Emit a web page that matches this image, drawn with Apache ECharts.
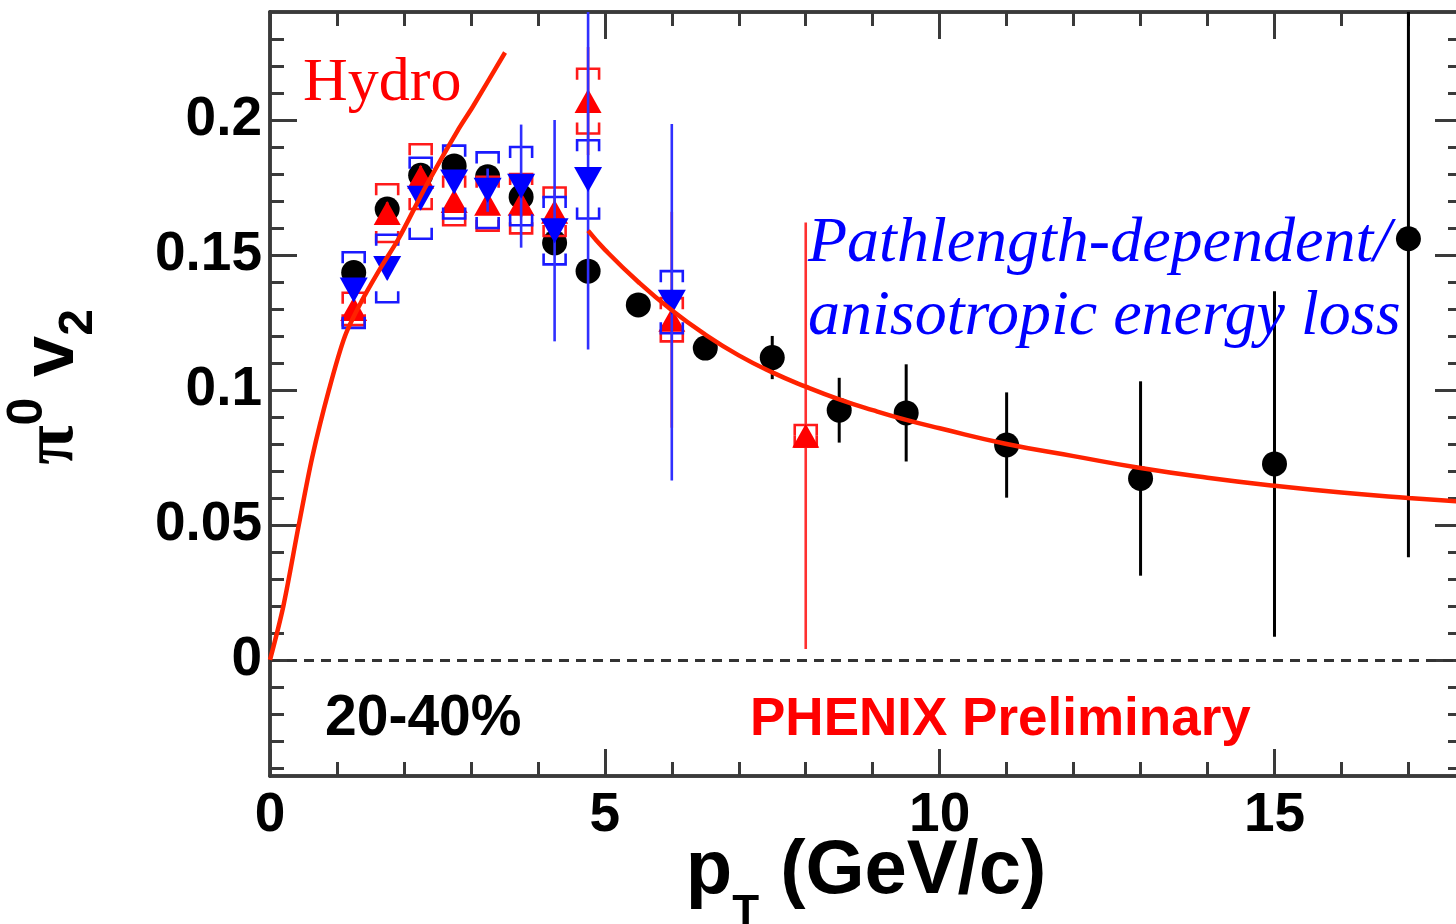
<!DOCTYPE html>
<html>
<head>
<meta charset="utf-8">
<script src="https://cdn.jsdelivr.net/npm/echarts@6/dist/echarts.min.js"></script>
<style>
  html, body { margin: 0; padding: 0; background: #fff; }
  #chart { width: 1456px; height: 924px; }
</style>
</head>
<body>
<div id="chart"></div>
<script>
// pi0 v2 vs pT, 20-40% centrality

// inclusive pi0 v2 (filled circles) with statistical errors
const pTPi0   = [1.25, 1.75, 2.25, 2.75, 3.25, 3.75, 4.25, 4.75, 5.5, 6.5, 7.5, 8.5, 9.5, 11, 13, 15, 17];
const v2Pi0   = [0.1435, 0.167, 0.1795, 0.183, 0.179, 0.1715, 0.1545, 0.144, 0.1315, 0.1155, 0.112, 0.0925, 0.0915, 0.0796, 0.0672, 0.0726, 0.156];
const statPi0 = [0.003, 0.003, 0.003, 0.003, 0.003, 0.003, 0.003, 0.003, 0.003, 0.004, 0.008, 0.012, 0.018, 0.0195, 0.036, 0.064, 0.118];

// up-triangle set (red): values, statistical errors, systematic half-widths
const pTUp   = [1.25, 1.75, 2.25, 2.75, 3.25, 3.75, 4.25, 4.75, 6, 8];
const v2Up   = [0.130, 0.1655, 0.179, 0.170, 0.169, 0.169, 0.166, 0.207, 0.126, 0.083];
const statUp = [0.004, 0.004, 0.004, 0.004, 0.004, 0.005, 0.008, 0.02, 0.04, 0.079];
const sysUp  = [0.006, 0.0107, 0.012, 0.009, 0.010, 0.011, 0.009, 0.012, 0.008, 0.004];

// down-triangle set (blue): values, statistical errors, systematic half-widths
const pTDown   = [1.25, 1.75, 2.25, 2.75, 3.25, 3.75, 4.25, 4.75, 6];
const v2Down   = [0.137, 0.145, 0.171, 0.177, 0.174, 0.1755, 0.159, 0.178, 0.1325];
const statDown = [0.004, 0.004, 0.004, 0.004, 0.008, 0.0228, 0.041, 0.063, 0.066];
const sysDown  = [0.014, 0.0125, 0.015, 0.0135, 0.014, 0.0145, 0.0125, 0.0145, 0.0115];

// hydrodynamic calculation
const hydroPt = [0, 0.2, 0.43, 0.63, 0.88, 1.12, 1.37, 1.67, 1.92, 2.34, 2.8, 3.03, 3.51];
const hydroV2 = [0, 0.020, 0.050, 0.075, 0.100, 0.120, 0.133, 0.146, 0.156, 0.176, 0.196, 0.205, 0.225];

// pathlength-dependent energy-loss calculation
const elossPt = [4.75, 5.0, 5.5, 6.0, 6.5, 7.0, 7.5, 8.0, 8.5, 9.0, 9.5, 10, 11, 12, 13, 14, 15, 16, 17, 17.8];
const elossV2 = [0.159, 0.152, 0.140, 0.1295, 0.1205, 0.1128, 0.1065, 0.1012, 0.0965, 0.0925, 0.0889, 0.0858, 0.0800, 0.0755, 0.0711, 0.0675, 0.0645, 0.0620, 0.0600, 0.0586];

// axis ticks
const xMajorTicks = [0, 5, 10, 15];
const xMinorTicks = [1, 2, 3, 4, 6, 7, 8, 9, 11, 12, 13, 14, 16, 17];
const yMajorTicks = [0, 0.05, 0.1, 0.15, 0.2];
const yMinorTicks = [-0.04, -0.03, -0.02, -0.01, 0.01, 0.02, 0.03, 0.04, 0.06, 0.07, 0.08, 0.09,
                     0.11, 0.12, 0.13, 0.14, 0.16, 0.17, 0.18, 0.19, 0.21, 0.22, 0.23];

const X_MIN = 0, X_MAX = 17.8, Y_MIN = -0.043, Y_MAX = 0.24;

const SANS = '"Liberation Sans", Arial, Helvetica, sans-serif';
const SERIF = '"Liberation Serif", "Times New Roman", serif';
const FRAME = '#3a3a3a';

const zip3 = (a, b, c) => a.map((v, i) => [v, b[i], c[i]]);
const zip2 = (a, b) => a.map((v, i) => [v, b[i]]);

function errorBarRenderer(color, width) {
  return function (params, api) {
    const x = api.value(0), y = api.value(1), e = api.value(2);
    const top = api.coord([x, y + e]);
    const bot = api.coord([x, y - e]);
    return {
      type: 'line',
      shape: { x1: top[0], y1: top[1], x2: bot[0], y2: bot[1] },
      style: { stroke: color, lineWidth: width }
    };
  };
}

// systematic uncertainty drawn as open brackets: top and bottom edges with short legs
function sysBoxRenderer(color) {
  return function (params, api) {
    const x = api.value(0), y = api.value(1), s = api.value(2);
    const top = api.coord([x, y + s]);
    const bot = api.coord([x, y - s]);
    const w = 11;
    const h = bot[1] - top[1];
    const leg = Math.min(11, h / 2);
    const cx = top[0];
    return {
      type: 'group',
      children: [
        {
          type: 'polyline',
          shape: { points: [[cx - w, top[1] + leg], [cx - w, top[1]], [cx + w, top[1]], [cx + w, top[1] + leg]] },
          style: { stroke: color, lineWidth: 2.6, fill: null }
        },
        {
          type: 'polyline',
          shape: { points: [[cx - w, bot[1] - leg], [cx - w, bot[1]], [cx + w, bot[1]], [cx + w, bot[1] - leg]] },
          style: { stroke: color, lineWidth: 2.6, fill: null }
        }
      ]
    };
  };
}

const axisLineStyle = { show: true, onZero: false, lineStyle: { color: FRAME, width: 3.5 } };
const tickStyle = (len, values) => ({
  show: true, inside: true, length: len, customValues: values,
  lineStyle: { color: FRAME, width: 3 }
});

function xAxisDef(position, ticks, len, withLabels) {
  return {
    type: 'value', position: position, min: X_MIN, max: X_MAX,
    axisLine: axisLineStyle,
    axisTick: tickStyle(len, ticks),
    axisLabel: withLabels ? {
      show: true, customValues: ticks, margin: 12,
      fontFamily: SANS, fontWeight: 'bold', fontSize: 55, color: '#000'
    } : { show: false },
    splitLine: { show: false }
  };
}
function yAxisDef(position, ticks, len, withLabels) {
  return {
    type: 'value', position: position, min: Y_MIN, max: Y_MAX,
    axisLine: axisLineStyle,
    axisTick: tickStyle(len, ticks),
    axisLabel: withLabels ? {
      show: true, customValues: ticks, margin: 8,
      fontFamily: SANS, fontWeight: 'bold', fontSize: 55, color: '#000'
    } : { show: false },
    splitLine: { show: false }
  };
}

const xMain = xAxisDef('bottom', xMajorTicks, 27, true);
xMain.name = '{p|p}{t|T}{r| (GeV/c)}';
xMain.nameLocation = 'middle';
xMain.nameGap = 33;
xMain.nameMoveOverlap = false;
xMain.nameTextStyle = {
  rich: {
    p: { fontFamily: SANS, fontWeight: 'bold', fontSize: 76, color: '#000', lineHeight: 127, verticalAlign: 'middle' },
    t: { fontFamily: SANS, fontWeight: 'bold', fontSize: 44, color: '#000', lineHeight: 44, verticalAlign: 'bottom' },
    r: { fontFamily: SANS, fontWeight: 'bold', fontSize: 76, color: '#000', lineHeight: 127, verticalAlign: 'middle' }
  }
};

const yMain = yAxisDef('left', yMajorTicks, 27, true);
yMain.name = '{pi|π}{sup|0}{sp| }{v|v}{sub|2}';
yMain.nameLocation = 'middle';
yMain.nameRotate = 90;
yMain.nameGap = 167;
yMain.nameMoveOverlap = false;
yMain.nameTextStyle = {
  padding: [0, 0, 0, 14],
  rich: {
    pi: { fontFamily: SERIF, fontWeight: 'bold', fontSize: 72, color: '#000', lineHeight: 100, verticalAlign: 'middle' },
    sup: { fontFamily: SANS, fontWeight: 'bold', fontSize: 50, color: '#000', lineHeight: 62, verticalAlign: 'top' },
    sp: { fontFamily: SANS, fontWeight: 'bold', fontSize: 74, color: '#000', lineHeight: 100, verticalAlign: 'middle' },
    v: { fontFamily: SANS, fontWeight: 'bold', fontSize: 74, color: '#000', lineHeight: 100, verticalAlign: 'middle' },
    sub: { fontFamily: SANS, fontWeight: 'bold', fontSize: 48, color: '#000', lineHeight: 44, verticalAlign: 'bottom' }
  }
};

const chart = echarts.init(document.getElementById('chart'), null, { renderer: 'canvas' });

chart.setOption({
  animation: false,
  backgroundColor: '#fff',
  grid: { left: 270, top: 12, right: -6, bottom: 148, containLabel: false, outerBoundsMode: 'none' },
  xAxis: [
    xMain,
    xAxisDef('bottom', xMinorTicks, 14, false),
    xAxisDef('top', xMajorTicks, 27, false),
    xAxisDef('top', xMinorTicks, 14, false)
  ],
  yAxis: [
    yMain,
    yAxisDef('left', yMinorTicks, 14, false),
    yAxisDef('right', yMajorTicks, 27, false),
    yAxisDef('right', yMinorTicks, 14, false)
  ],
  series: [
    {
      // zero reference line
      type: 'line', data: [], silent: true,
      markLine: {
        silent: true, symbol: ['none', 'none'], label: { show: false },
        lineStyle: { color: '#333', width: 3, type: [10, 7] },
        data: [{ yAxis: 0 }]
      }
    },
    {
      type: 'custom', name: 'pi0 stat', clip: true,
      renderItem: errorBarRenderer('#000', 3),
      data: zip3(pTPi0, v2Pi0, statPi0), z: 3
    },
    {
      type: 'scatter', name: 'pi0', symbol: 'circle', symbolSize: 25,
      itemStyle: { color: '#000', opacity: 1 },
      data: zip2(pTPi0, v2Pi0), z: 4
    },
    {
      type: 'custom', name: 'up sys', clip: true,
      renderItem: sysBoxRenderer('#ff1a1a'),
      data: zip3(pTUp, v2Up, sysUp), z: 5
    },
    {
      type: 'custom', name: 'up stat', clip: true,
      renderItem: errorBarRenderer('#ff3030', 2.6),
      data: zip3(pTUp, v2Up, statUp), z: 5
    },
    {
      type: 'scatter', name: 'up', symbol: 'triangle', symbolSize: [27, 24],
      itemStyle: { color: '#ff0000', opacity: 1 },
      data: zip2(pTUp, v2Up), z: 6
    },
    {
      type: 'custom', name: 'down sys', clip: true,
      renderItem: sysBoxRenderer('#1a1aff'),
      data: zip3(pTDown, v2Down, sysDown), z: 7
    },
    {
      type: 'custom', name: 'down stat', clip: true,
      renderItem: errorBarRenderer('#3030ff', 2.6),
      data: zip3(pTDown, v2Down, statDown), z: 7
    },
    {
      type: 'scatter', name: 'down', symbol: 'triangle', symbolRotate: 180, symbolSize: [28, 25],
      itemStyle: { color: '#0000ff', opacity: 1 },
      data: zip2(pTDown, v2Down), z: 8
    },
    {
      type: 'line', name: 'Hydro', smooth: 0.3, showSymbol: false, symbol: 'none',
      lineStyle: { color: '#ff2200', width: 4.5 },
      data: zip2(hydroPt, hydroV2), z: 9
    },
    {
      type: 'line', name: 'Eloss', smooth: true, showSymbol: false, symbol: 'none',
      lineStyle: { color: '#ff2200', width: 4.5 },
      data: zip2(elossPt, elossV2), z: 9
    }
  ],
  graphic: [
    {
      type: 'text', x: 303, y: 84, z: 20,
      style: { text: 'Hydro', font: '62px ' + SERIF, fill: '#ff0000', align: 'left', verticalAlign: 'middle' }
    },
    {
      type: 'text', x: 808, y: 244, z: 20,
      style: { text: 'Pathlength-dependent/', font: 'italic 64px ' + SERIF, fill: '#0000ff', align: 'left', verticalAlign: 'middle' }
    },
    {
      type: 'text', x: 808, y: 317, z: 20,
      style: { text: 'anisotropic energy loss', font: 'italic 64px ' + SERIF, fill: '#0000ff', align: 'left', verticalAlign: 'middle' }
    },
    {
      type: 'text', x: 325, y: 719, z: 20,
      style: { text: '20-40%', font: 'bold 57px ' + SANS, fill: '#000', align: 'left', verticalAlign: 'middle' }
    },
    {
      type: 'text', x: 750, y: 720, z: 20,
      style: { text: 'PHENIX Preliminary', font: 'bold 53px ' + SANS, fill: '#ff0000', align: 'left', verticalAlign: 'middle' }
    }
  ]
});
</script>
</body>
</html>
